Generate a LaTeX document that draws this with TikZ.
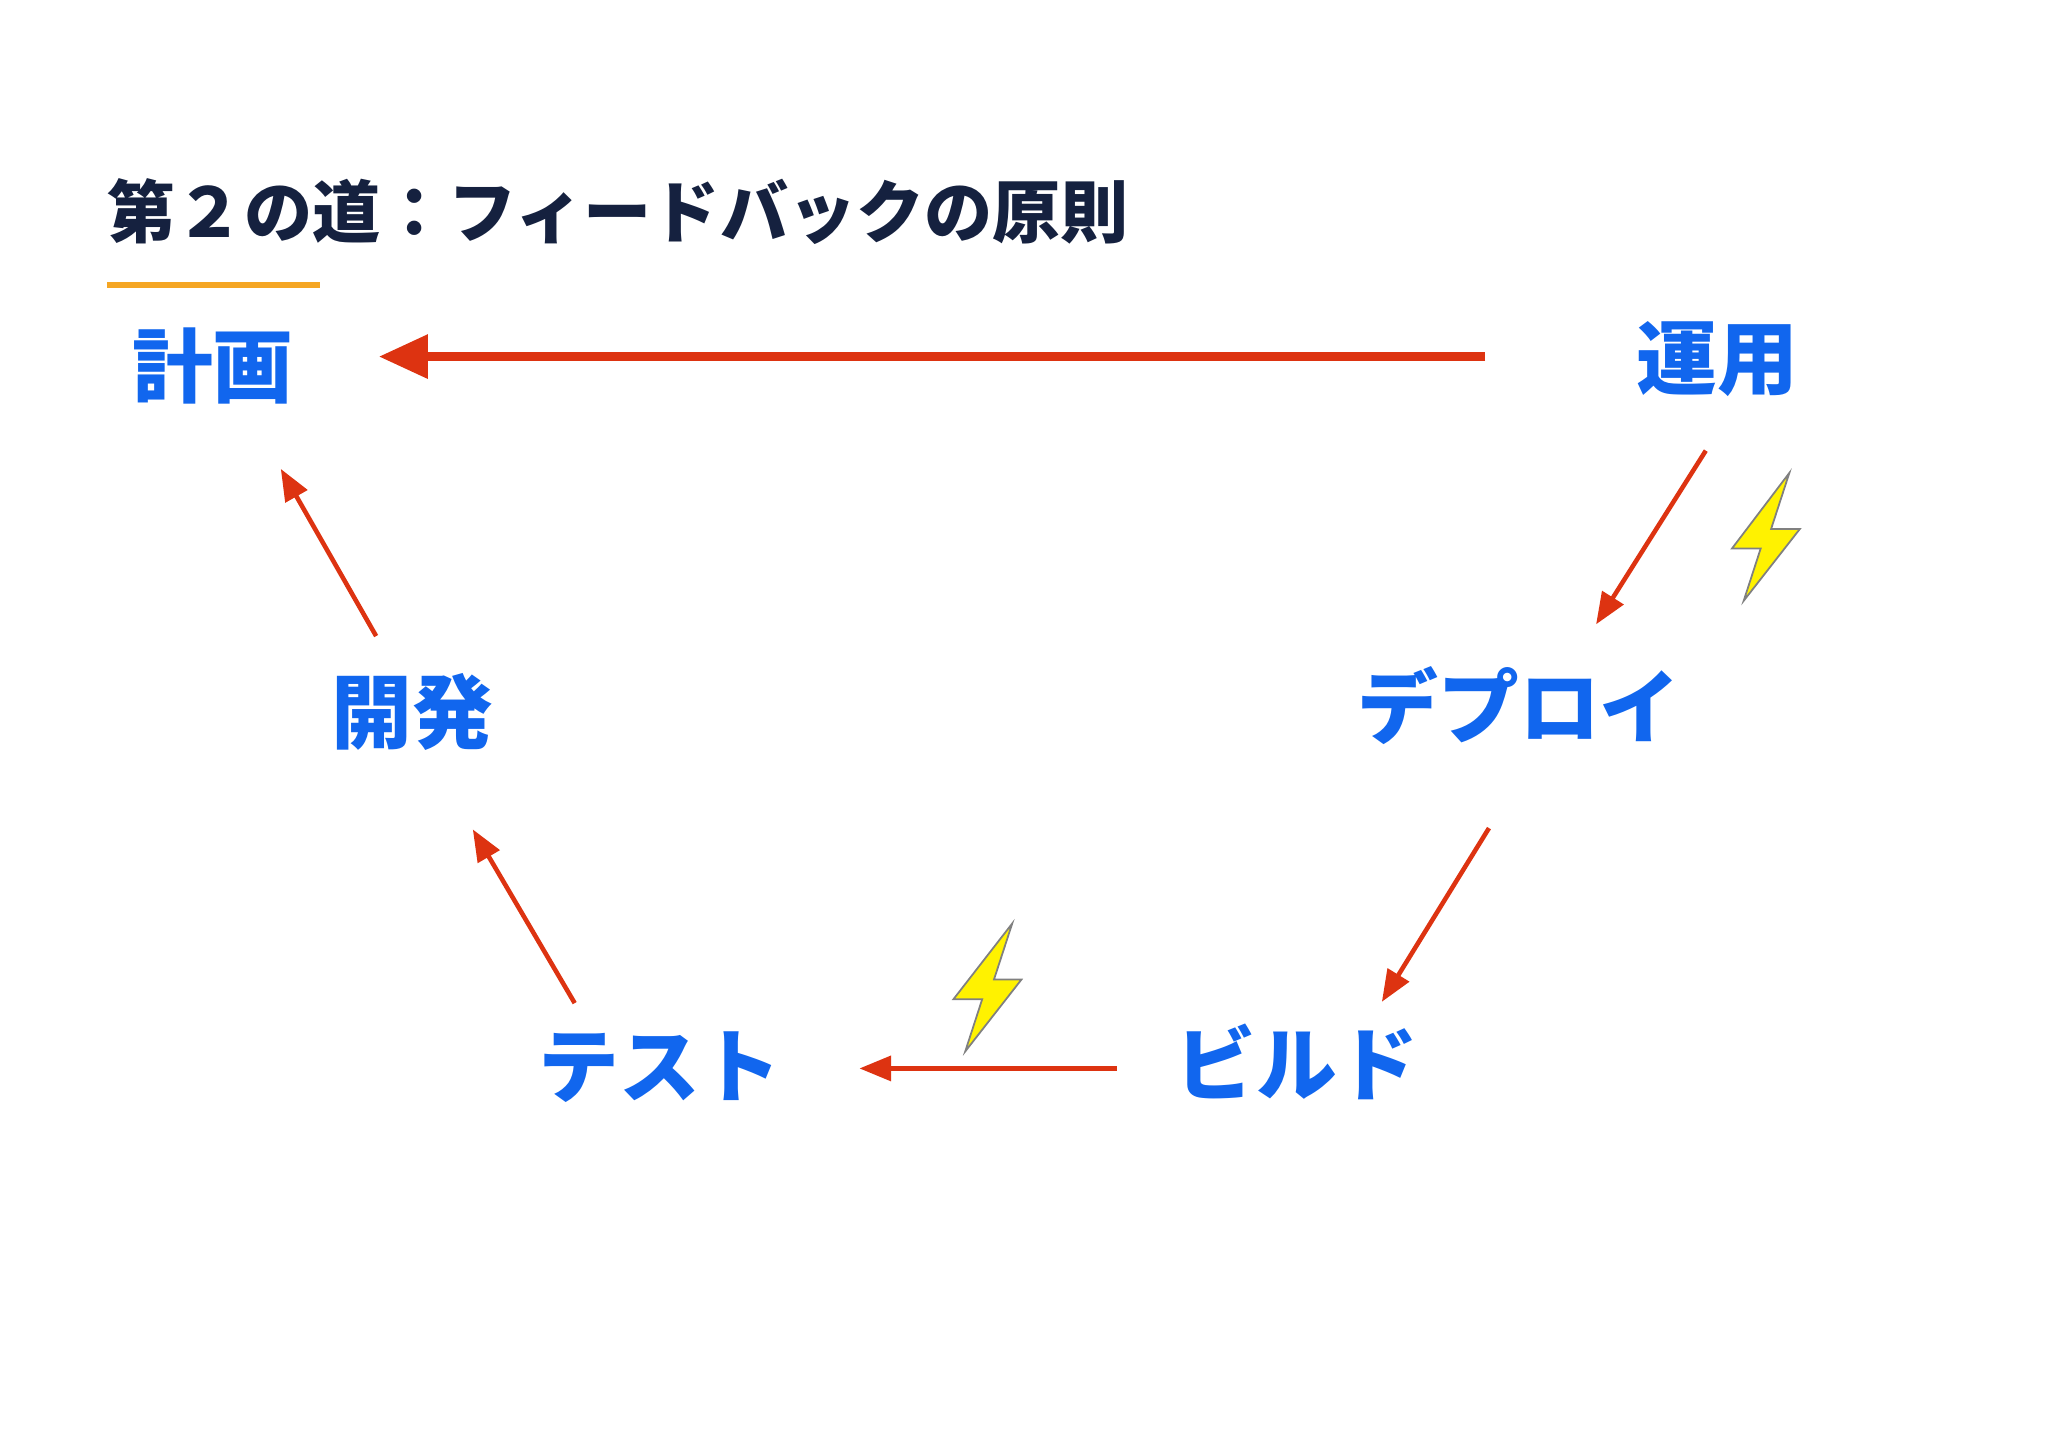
\documentclass[tikz,border=0pt]{standalone}
\usepackage{fontspec}
\newfontfamily\jp{Noto Sans CJK JP}
\usetikzlibrary{arrows.meta}
\definecolor{navy}{HTML}{15213F}
\definecolor{lbl}{HTML}{1166EE}
\definecolor{arr}{HTML}{DD3311}
\definecolor{orng}{HTML}{F5A623}
\tikzset{
 lab/.style={text=lbl,font=\jp\bfseries\fontsize{23}{26}\selectfont,inner sep=0pt},
 flow/.style={draw=arr,line width=1.3pt,-{Triangle[length=9pt,width=7pt]}},
 bolt/.style={fill=yellow,draw=gray,line width=0.5pt}
}
\begin{document}
\begin{tikzpicture}[x=0.01306cm,y=-0.01306cm]
\useasboundingbox (0,0) rectangle (1568,1108);
\node[anchor=west,text=navy,font=\jp\bfseries\fontsize{19.4}{22}\selectfont,inner sep=0pt] (title) at (82,162) {第２の道：フィードバックの原則};
\draw[orng,line width=1.8pt] (82,218) -- (245,218);
\node[lab] (plan) at (163,280) {計画};
\node[lab] (ops) at (1315,275) {運用};
\node[lab] (dev) at (316,545) {開発};
\node[lab] (deploy) at (1163,540) {デプロイ};
\node[lab] (test) at (505,817) {テスト};
\node[lab] (build) at (993,813) {ビルド};
\coordinate (a1) at (1137,273); \coordinate (a2) at (290,273);
\coordinate (b1) at (1306,345); \coordinate (b2) at (1222,478);
\coordinate (c1) at (1140,634); \coordinate (c2) at (1058,767);
\coordinate (d1) at (855,818); \coordinate (d2) at (658,818);
\coordinate (e1) at (440,768); \coordinate (e2) at (362,635);
\coordinate (f1) at (288,487); \coordinate (f2) at (215,359);
\draw[draw=arr,line width=2.6pt,-{Triangle[length=14pt,width=12pt]}] (a1) -- (a2);
\draw[flow] (b1) -- (b2);
\draw[flow] (c1) -- (c2);
\draw[flow] (d1) -- (d2);
\draw[flow] (e1) -- (e2);
\draw[flow] (f1) -- (f2);
\draw[bolt] (1370,362) -- (1326,420) -- (1348,420) -- (1335,460) -- (1378,405) -- (1356,405) -- cycle;
\draw[bolt] (775,707) -- (730,765) -- (752,765) -- (739,805) -- (782,750) -- (761,750) -- cycle;
\end{tikzpicture}
\end{document}
